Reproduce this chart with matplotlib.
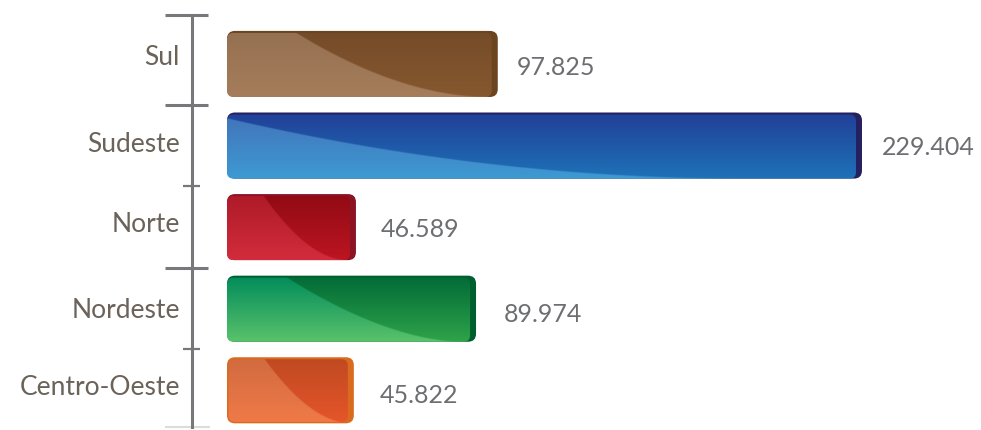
import numpy as np
import matplotlib
matplotlib.use("Agg")
import matplotlib.pyplot as plt
from matplotlib.patches import FancyBboxPatch
from matplotlib.colors import to_rgb

# data
regions = ["Sul", "Sudeste", "Norte", "Nordeste", "Centro-Oeste"]
values = [97.825, 229.404, 46.589, 89.974, 45.822]
value_labels = ["97.825", "229.404", "46.589", "89.974", "45.822"]

# glossy colours per bar: light top, light bottom, dark top, dark bottom, edge
bar_colors = [
    ("#957050", "#a57d5b", "#744b29", "#86582f", "#6b4420"),
    ("#4372b9", "#3d9ad3", "#213f98", "#1e72b8", "#25215f"),
    ("#ad1a28", "#d22c3c", "#900a14", "#bc1521", "#8c1323"),
    ("#008b5b", "#5ac26b", "#006a36", "#2fa34a", "#005f2f"),
    ("#d06a3f", "#f07a48", "#be4921", "#e6552a", "#da6a1e"),
]
# gloss curve: start at top / end at bottom (fraction of bar length), curve power
gloss = [(0.24, 0.945, 1.8), (-0.04, 0.82, 2.0), (0.27, 0.91, 1.8),
         (0.225, 0.93, 1.7), (0.28, 0.95, 1.8)]

# small per-label nudges (pixels, down is positive) to sit like the original
cat_baseline = [1, 6, 4.5, 9.5, 5]
val_baseline = [11, 9, 9.5, 13.5, 13]
val_gap = [19, 20, 25, 28, 26]

W, H = 981, 430
fig = plt.figure(figsize=(W / 100, H / 100), dpi=100)
ax = fig.add_axes([192 / W, 3 / H, (W - 192) / W, 412 / H])
ax.set_xlim(-12.64, 272.4)
ax.set_ylim(4.45, -0.6)
ax.set_autoscale_on(False)

# pixels per data unit
p0 = ax.transData.transform((0, 0))
p1 = ax.transData.transform((1, 1))
sx = abs(p1[0] - p0[0])
sy = abs(p1[1] - p0[1])
aspect = sx / sy

h = 0.405
rad = 8 / sx

for i, (name, v) in enumerate(zip(regions, values)):
    lt, lb, dt, db, edge = [np.array(to_rgb(c)) for c in bar_colors[i]]
    top, bot = i - h, i + h

    outer = FancyBboxPatch((0, top), v, 2 * h,
                           boxstyle=f"round,pad=0,rounding_size={rad}",
                           mutation_aspect=aspect, fc=edge, ec="none", zorder=2)
    ax.add_patch(outer)

    right_in = 6 / sx
    top_in = 2 / sy
    left_in = 1.5 / sx if i == 4 else 0
    bot_in = 1.5 / sy if i == 4 else 0
    inner = FancyBboxPatch((left_in, top + top_in), v - right_in - left_in,
                           2 * h - top_in - bot_in,
                           boxstyle=f"round,pad=0,rounding_size={rad * 0.8}",
                           mutation_aspect=aspect, fc="none", ec="none", zorder=1)
    ax.add_patch(inner)

    nw = int(v * sx) * 2
    nh = int(2 * h * sy) * 2
    u = np.linspace(0, 1, nw)
    t = np.linspace(0, 1, nh)
    xs, xe, pw = gloss[i]
    uu = np.clip((u - xs) / (xe - xs), 0, 1)
    d = 1 - (1 - uu) ** pw
    a = np.clip((t[:, None] - d[None, :]) * (2 * h * sy) + 0.5, 0, 1)[..., None]
    light = lt + (lb - lt) * t[:, None, None]
    dark = dt + (db - dt) * t[:, None, None]
    img = dark * (1 - a) + light * a

    im = ax.imshow(img, extent=(0, v, bot, top), origin="upper", aspect="auto",
                   interpolation="bilinear", zorder=3)
    im.set_clip_path(inner)

    ax.annotate(name, xy=(0, i), xycoords=("axes fraction", "data"),
                xytext=(-12, -cat_baseline[i]), textcoords="offset pixels",
                ha="right", va="baseline", fontsize=19, family="Lato",
                color="#6b6259")
    ax.annotate(value_labels[i], xy=(v, i), xycoords="data",
                xytext=(val_gap[i], -val_baseline[i]), textcoords="offset pixels",
                ha="left", va="baseline", fontsize=18, family="Lato",
                color="#6d6e71")

# axis line and tick marks
for s in ["top", "right", "bottom"]:
    ax.spines[s].set_visible(False)
ax.spines["left"].set_color("#77787b")
ax.spines["left"].set_linewidth(2.2)
ax.set_xticks([])
ax.set_yticks([])

axw = ax.bbox.width
ytr = ax.get_yaxis_transform()
y_top = ax.get_ylim()[1]
y_bot = ax.get_ylim()[0]
for yb in [y_top, 0.5, 2.5]:
    ax.plot([-27 / axw, 16 / axw], [yb, yb], color="#77787b", lw=2.2,
            transform=ytr, clip_on=False, solid_capstyle="butt", zorder=5)
for yb in [1.5, 3.5]:
    ax.plot([-9 / axw, 8 / axw], [yb, yb], color="#77787b", lw=1.6,
            transform=ytr, clip_on=False, solid_capstyle="butt", zorder=5)
ax.plot([-27 / axw, 18 / axw], [y_bot, y_bot], color="#dcdcdc", lw=1.5,
        transform=ytr, clip_on=False, solid_capstyle="butt", zorder=1)

fig.savefig("out.png", dpi=100)
